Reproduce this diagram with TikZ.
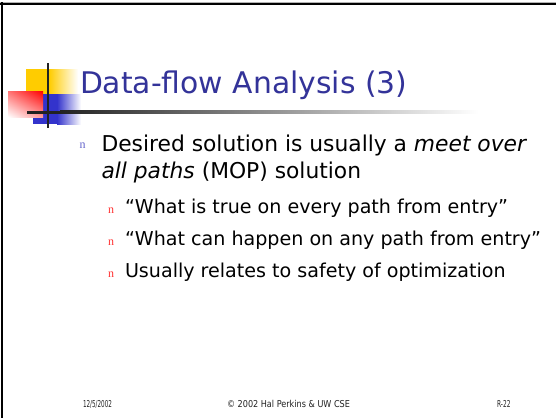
\documentclass[tikz,border=0pt]{standalone}
\usepackage{fontspec}
\setmainfont{DejaVu Sans}
\newfontfamily\bulletfont{Liberation Serif}
\usepackage{graphicx}
\usetikzlibrary{shadings}
\definecolor{titleblue}{HTML}{333399}
\definecolor{logoyellow}{HTML}{FFCC00}
\definecolor{logored}{HTML}{FF0000}
\definecolor{logoblue}{HTML}{3333CC}
\definecolor{barblack}{HTML}{222222}
\definecolor{bulletblue}{HTML}{6666CC}
\definecolor{bulletred}{HTML}{FF3333}
\definecolor{foot}{HTML}{222222}
\begin{document}
\begin{tikzpicture}[x=1pt,y=-1pt,
  every node/.style={inner sep=0pt,outer sep=0pt},
  title/.style={anchor=base west,text=titleblue,font=\fontsize{29.8}{30}\selectfont},
  body/.style={anchor=base west,text=black,font=\fontsize{21.8}{22}\selectfont},
  subbody/.style={anchor=base west,text=black,font=\fontsize{19.1}{20}\selectfont},
  mainbullet/.style={anchor=base west,text=bulletblue,font=\bulletfont\fontsize{12}{12}\selectfont},
  subbullet/.style={anchor=base west,text=bulletred,font=\bulletfont\fontsize{12}{12}\selectfont},
  footer/.style={anchor=base west,text=foot,font=\fontsize{9.5}{10}\selectfont}]
\useasboundingbox (0,0) rectangle (556,418);
\fill[white] (0,0) rectangle (556,418);

% slide frame (top and left edges)
\fill[gray!60] (0,1.8) rectangle (556,2.8);
\fill[black] (0,2.8) rectangle (556,5.2);
\fill[black] (0.8,2) rectangle (3.3,418);

% logo: yellow, blue and red squares with fading edges
\fill[logoyellow] (26,69) rectangle (49,95);
\shade[left color=logoyellow,right color=white] (49,69) rectangle (78,95);
\fill[logoblue] (33,94) rectangle (57,124);
\shade[left color=logoblue,right color=white] (57,94) rectangle (81,124);
\shade[upper right=logored,upper left=logored!55!white,
       lower right=logored!40!white,lower left=white] (8,91) rectangle (43,117);

% logo cross lines
\fill[barblack] (46.8,63) rectangle (49,128);
\fill[barblack] (27,110.8) rectangle (60,113.6);
\shade[left color=barblack,right color=white] (60,110.8) rectangle (478,113.6);

% title
\node[title] (title) at (80,93.3) {Data-flow Analysis (3)};

% first-level bullet
\node[mainbullet] (b1) at (79.5,148.5) {n};
\node[body] (l1) at (101.5,151) {Desired solution is usually a \textit{meet over}};
\node[body] (l2) at (101.5,178) {\textit{all paths} (MOP) solution};

% second-level bullets
\node[subbullet] (s1b) at (108,213.3) {n};
\node[subbody] (s1) at (125,213) {“What is true on every path from entry”};
\node[subbullet] (s2b) at (108,245.3) {n};
\node[subbody] (s2) at (125,245) {“What can happen on any path from entry”};
\node[subbullet] (s3b) at (108,277.3) {n};
\node[subbody] (s3) at (125,277) {Usually relates to safety of optimization};

% footer
\node[footer] (date) at (83,407) {\resizebox{29pt}{\height}{12/5/2002}};
\node[footer] (copy) at (227,407) {\resizebox{123pt}{\height}{© 2002 Hal Perkins \& UW CSE}};
\node[footer] (page) at (497,407) {\resizebox{13.5pt}{\height}{R-22}};
\end{tikzpicture}
\end{document}
